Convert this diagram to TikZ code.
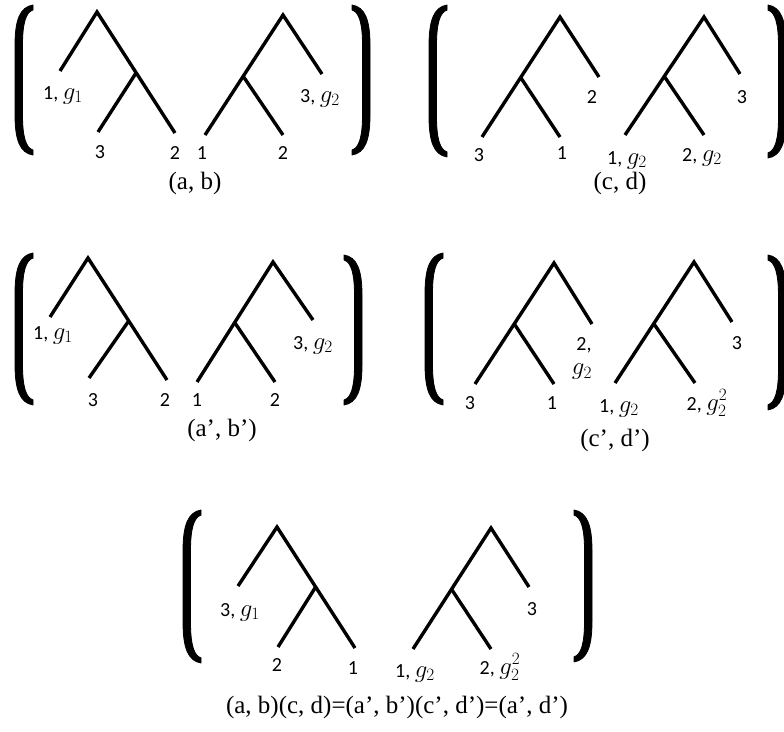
\documentclass[tikz,border=0pt]{standalone}
\usepackage{fontspec}
\setmainfont{Liberation Serif}
\newfontfamily\labfont{Carlito}
\newcommand\gsym[1]{{\fontsize{24}{24}\selectfont$g_{#1}$}}
\newcommand\gsqr{{\fontsize{24}{24}\selectfont$g_2^2$}}
\tikzset{
  lbr/.pic={
    \filldraw[line width=0.8pt, line join=round]
      (18,0) .. controls (5,2) and (0,15) .. (0,40) -- (0,110)
      .. controls (0,135) and (5,148) .. (18,150) -- (18,145)
      .. controls (11,143) and (7.5,132) .. (7.5,110) -- (7.5,40)
      .. controls (7.5,18) and (11,7) .. (18,5) -- cycle;
  },
  branch/.style={line width=3.4pt, line cap=butt, line join=miter},
  lab/.style={font=\labfont\fontsize{20}{21}\selectfont, inner sep=0pt},
  captxt/.style={font=\fontsize{25}{27}\selectfont, inner sep=0pt}
}
\begin{document}
\begin{tikzpicture}[x=1pt,y=-1pt]
\useasboundingbox (0,0) rectangle (784,731);
\fill[white] (0,0) rectangle (784,731);

% ---------------- panel (a,b)
\pic at (15,5) {lbr};
\pic[xscale=-1] at (370,5) {lbr};
\coordinate (a1) at (97,12); \coordinate (a1l) at (60,71);
\coordinate (a1r) at (175,133); \coordinate (a1i) at (136,73);
\coordinate (a1m) at (98,132);
\draw[branch] (a1l) -- (a1) -- (a1r);
\draw[branch] (a1i) -- (a1m);
\coordinate (b1) at (283,15); \coordinate (b1r) at (322,74);
\coordinate (b1l) at (205,135); \coordinate (b1i) at (243,76);
\coordinate (b1m) at (283,135);
\draw[branch] (b1l) -- (b1) -- (b1r);
\draw[branch] (b1i) -- (b1m);
\node[lab] (p1a) at (63,95) {1, \gsym{1}};
\node[lab] (p1b) at (100,152) {3};
\node[lab] (p1c) at (175,153) {2};
\node[lab] (p1d) at (320,98) {3, \gsym{2}};
\node[lab] (p1e) at (202,153) {1};
\node[lab] (p1f) at (283,153) {2};
\node[captxt] (cap1) at (195,183) {(a, b)};

% ---------------- panel (c,d)
\pic[yscale=1.013] at (429,5) {lbr};
\pic[xscale=-1,yscale=1.02] at (786,5) {lbr};
\coordinate (c1) at (560,17); \coordinate (c1r) at (599,77);
\coordinate (c1l) at (482,137); \coordinate (c1i) at (521,78);
\coordinate (c1m) at (560,137);
\draw[branch] (c1l) -- (c1) -- (c1r);
\draw[branch] (c1i) -- (c1m);
\coordinate (d1) at (704,17); \coordinate (d1r) at (740,74);
\coordinate (d1l) at (625,135); \coordinate (d1i) at (664,76);
\coordinate (d1m) at (704,135);
\draw[branch] (d1l) -- (d1) -- (d1r);
\draw[branch] (d1i) -- (d1m);
\node[lab] (p2a) at (592,97) {2};
\node[lab] (p2b) at (479,155) {3};
\node[lab] (p2c) at (562,153) {1};
\node[lab] (p2d) at (627,160) {1, \gsym{2}};
\node[lab] (p2e) at (702,157) {2, \gsym{2}};
\node[lab] (p2f) at (742,97) {3};
\node[captxt] (cap2) at (620,183) {(c, d)};

% ---------------- panel (a',b')
\pic[yscale=1.013] at (15,253) {lbr};
\pic[xscale=-1] at (362,255) {lbr};
\coordinate (a2) at (88,258); \coordinate (a2l) at (50,317);
\coordinate (a2r) at (167,380); \coordinate (a2i) at (128,322);
\coordinate (a2m) at (89,378);
\draw[branch] (a2l) -- (a2) -- (a2r);
\draw[branch] (a2i) -- (a2m);
\coordinate (b2) at (273,262); \coordinate (b2r) at (313,320);
\coordinate (b2l) at (197,382); \coordinate (b2i) at (235,323);
\coordinate (b2m) at (275,382);
\draw[branch] (b2l) -- (b2) -- (b2r);
\draw[branch] (b2i) -- (b2m);
\node[lab] (p3a) at (53,335) {1, \gsym{1}};
\node[lab] (p3b) at (93,400) {3};
\node[lab] (p3c) at (165,400) {2};
\node[lab] (p3d) at (313,345) {3, \gsym{2}};
\node[lab] (p3e) at (197,400) {1};
\node[lab] (p3f) at (275,400) {2};
\node[captxt] (cap3) at (222,430) {(a’, b’)};

% ---------------- panel (c',d')
\pic[yscale=1.013] at (425,253) {lbr};
\pic[xscale=-1,yscale=1.033] at (786,255) {lbr};
\coordinate (c2) at (554,263); \coordinate (c2r) at (592,324);
\coordinate (c2l) at (475,384); \coordinate (c2i) at (515,325);
\coordinate (c2m) at (554,384);
\draw[branch] (c2l) -- (c2) -- (c2r);
\draw[branch] (c2i) -- (c2m);
\coordinate (d2) at (694,262); \coordinate (d2r) at (732,322);
\coordinate (d2l) at (615,383); \coordinate (d2i) at (654,324);
\coordinate (d2m) at (695,383);
\draw[branch] (d2l) -- (d2) -- (d2r);
\draw[branch] (d2i) -- (d2m);
\node[lab] (p4a) at (584,345) {2,};
\node[lab] (p4b) at (582,372) {\gsym{2}};
\node[lab] (p4c) at (470,403) {3};
\node[lab] (p4d) at (552,403) {1};
\node[lab] (p4e) at (619,408) {1, \gsym{2}};
\node[lab] (p4f) at (707,403) {2, \gsqr};
\node[lab] (p4g) at (737,343) {3};
\node[captxt] (cap4) at (615,440) {(c’, d’)};

% ---------------- product panel
\pic[yscale=1.02] at (183,510) {lbr};
\pic[xscale=-1,yscale=1.013] at (592,510) {lbr};
\coordinate (a3) at (277,527); \coordinate (a3l) at (238,586);
\coordinate (a3r) at (355,648); \coordinate (a3i) at (315,588);
\coordinate (a3m) at (278,647);
\draw[branch] (a3l) -- (a3) -- (a3r);
\draw[branch] (a3i) -- (a3m);
\coordinate (b3) at (491,528); \coordinate (b3r) at (529,587);
\coordinate (b3l) at (413,649); \coordinate (b3i) at (452,590);
\coordinate (b3m) at (491,649);
\draw[branch] (b3l) -- (b3) -- (b3r);
\draw[branch] (b3i) -- (b3m);
\node[lab] (p5a) at (240,612) {3, \gsym{1}};
\node[lab] (p5b) at (277,665) {2};
\node[lab] (p5c) at (353,668) {1};
\node[lab] (p5d) at (415,673) {1, \gsym{2}};
\node[lab] (p5e) at (500,667) {2, \gsqr};
\node[lab] (p5f) at (532,609) {3};
\node[captxt] (cap5) at (397,707) {(a, b)(c, d)=(a’, b’)(c’, d’)=(a’, d’)};
\end{tikzpicture}
\end{document}
